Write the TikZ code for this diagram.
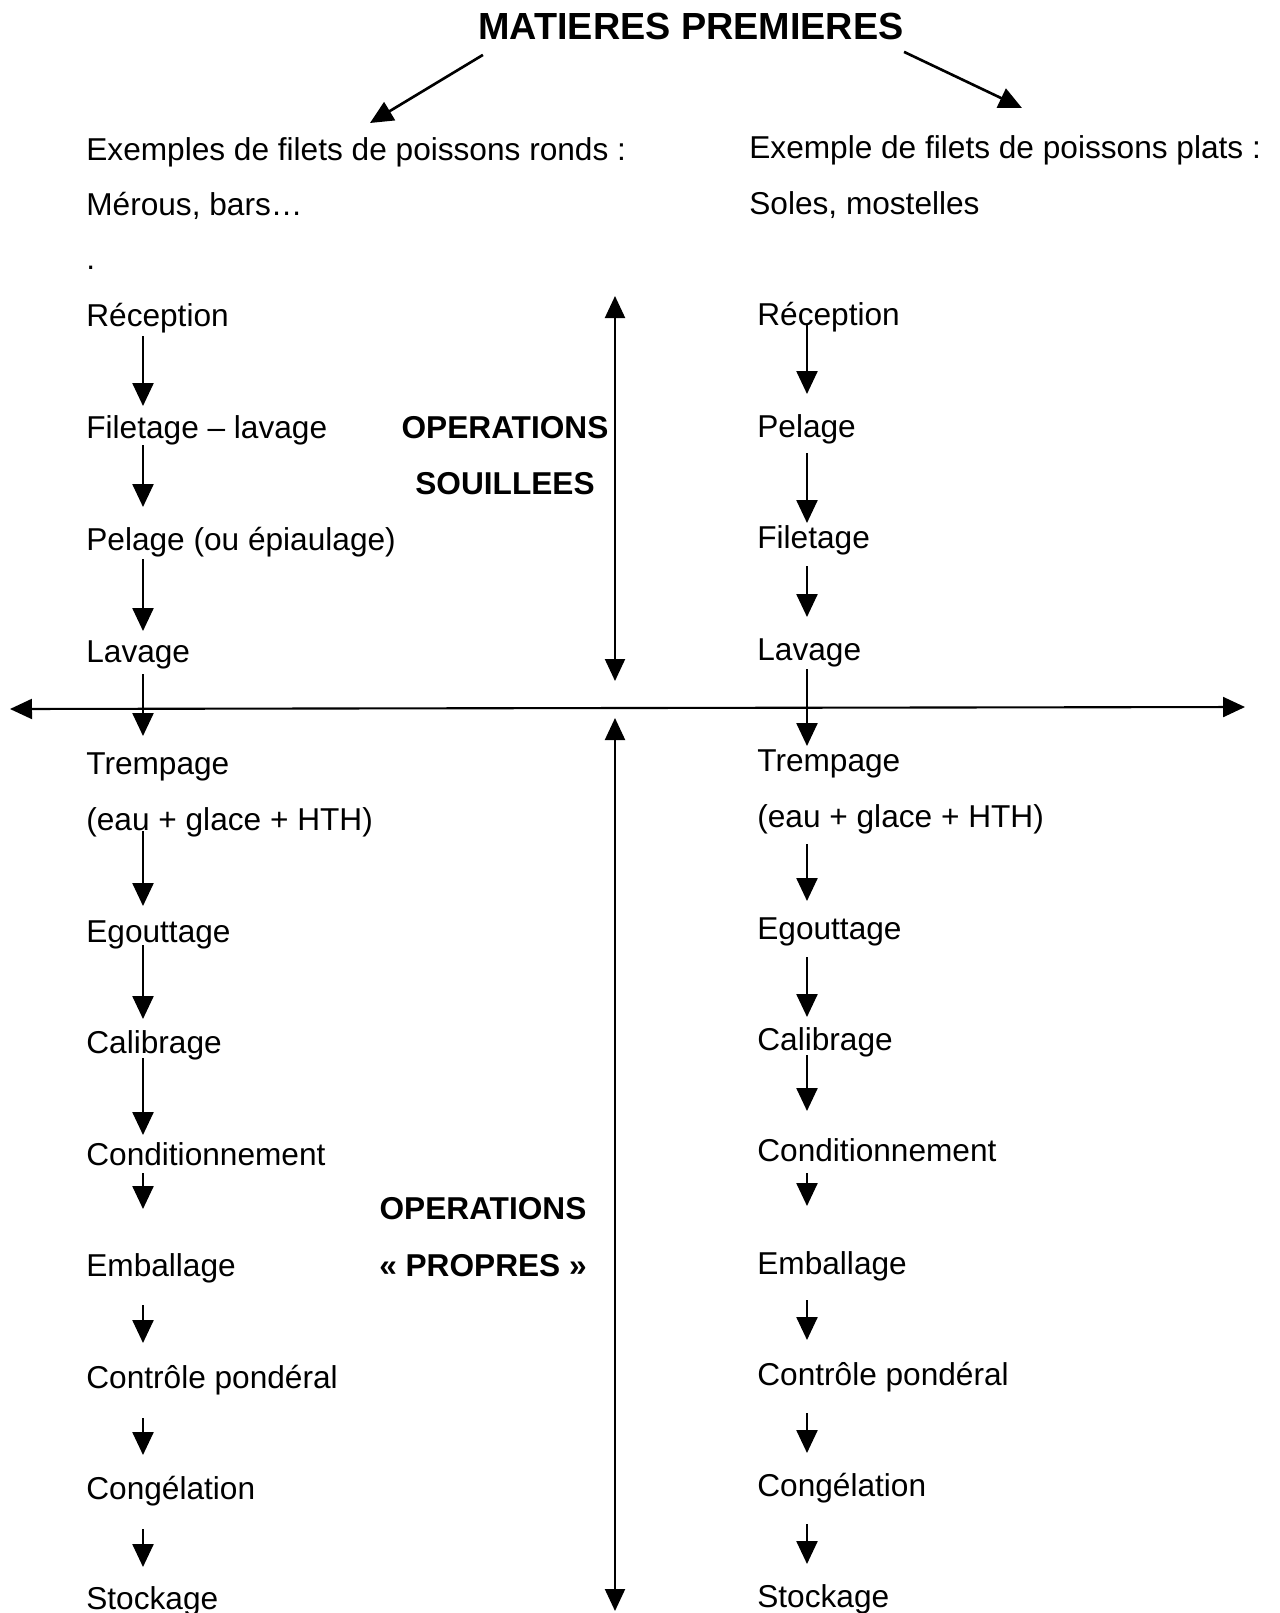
\documentclass[tikz,border=0pt]{standalone}
\usepackage{fontspec}
\setmainfont{Liberation Sans}
\usepackage{tikz}
\usetikzlibrary{positioning,calc,arrows.meta}

\tikzset{
  txt/.style={anchor=west, inner sep=0pt, text height=12.9pt, text depth=0pt, font=\fontsize{18}{22}\selectfont},
  ops/.style={inner sep=0pt, text height=12.9pt, text depth=0pt, font=\fontsize{18}{22}\selectfont\bfseries},
  flow/.style 2 args={-{Triangle[length=0.46cm,width=0.42cm]}, line width=1.4pt, shorten <=#1*0.02cm, shorten >=#2*0.02cm},
  axe/.style={{Triangle[length=0.44cm,width=0.40cm]}-{Triangle[length=0.44cm,width=0.40cm]}, line width=1.2pt},
}

\begin{document}
\begin{tikzpicture}[x=0.02cm, y=-0.02cm]
    \useasboundingbox (0,0) rectangle (1280,1613);

    % Title and the two fish types
    \node[inner sep=0pt, text height=15.4pt, text depth=0pt, font=\fontsize{21.5}{25}\selectfont\bfseries] (title) at (691,26) {MATIERES PREMIERES};
    \coordinate (tL) at (370,123);
    \coordinate (tR) at (1022,108);
    \draw[-{Triangle[length=0.46cm,width=0.42cm]}, line width=1.5pt] ($(title.south west)+(5,15)$) -- (tL);
    \draw[-{Triangle[length=0.46cm,width=0.42cm]}, line width=1.5pt] ($(title.south east)+(0,12)$) -- (tR);

    \node[txt] (ronds) at (86,149) {Exemples de filets de poissons ronds :};
    \node[txt] (merou) at (86,204) {Mérous, bars\ldots};
    \node[txt] (dot) at (86,258) {.};
    \node[txt] (plats) at (749,147) {Exemple de filets de poissons plats :};
    \node[txt] (soles) at (749,203) {Soles, mostelles};

    % Left column: round fish
    \node[txt] (recL) at (86,315) {Réception};
    \node[txt] (filL) at (86,427) {Filetage – lavage};
    \node[txt] (pelL) at (86,539) {Pelage (ou épiaulage)};
    \node[txt] (lavL) at (86,651) {Lavage};
    \node[txt] (trpL) at (86,763) {Trempage};
    \node[txt] (eauL) at (86,819) {(eau + glace + HTH)};
    \node[txt] (egoL) at (86,931) {Egouttage};
    \node[txt] (calL) at (86,1042) {Calibrage};
    \node[txt] (conL) at (86,1154) {Conditionnement};
    \node[txt] (embL) at (86,1265) {Emballage};
    \node[txt] (ctrL) at (86,1377) {Contrôle pondéral};
    \node[txt] (cgL) at (86,1488) {Congélation};
    \node[txt] (stkL) at (86,1598) {Stockage};
    \coordinate (xL) at (143,0);

    \draw[flow={21}{21}] (recL -| xL) -- (filL -| xL);
    \draw[flow={18}{32}] (filL -| xL) -- (pelL -| xL);
    \draw[flow={20}{20}] (pelL -| xL) -- (lavL -| xL);
    \draw[flow={23}{27}] (lavL -| xL) -- (trpL -| xL);
    \draw[flow={12}{25}] (eauL -| xL) -- (egoL -| xL);
    \draw[flow={14}{23}] (egoL -| xL) -- (calL -| xL);
    \draw[flow={16}{19}] (calL -| xL) -- (conL -| xL);
    \draw[flow={19}{56}] (conL -| xL) -- (embL -| xL);
    \draw[flow={40}{34}] (embL -| xL) -- (ctrL -| xL);
    \draw[flow={41}{33}] (ctrL -| xL) -- (cgL -| xL);
    \draw[flow={41}{31}] (cgL -| xL) -- (stkL -| xL);

    % Right column: flat fish
    \node[txt] (recR) at (757,314) {Réception};
    \node[txt] (pelR) at (757,426) {Pelage};
    \node[txt] (filR) at (757,537) {Filetage};
    \node[txt] (lavR) at (757,649) {Lavage};
    \node[txt] (trpR) at (757,760) {Trempage};
    \node[txt] (eauR) at (757,816) {(eau + glace + HTH)};
    \node[txt] (egoR) at (757,928) {Egouttage};
    \node[txt] (calR) at (757,1039) {Calibrage};
    \node[txt] (conR) at (757,1150) {Conditionnement};
    \node[txt] (embR) at (757,1263) {Emballage};
    \node[txt] (ctrR) at (757,1374) {Contrôle pondéral};
    \node[txt] (cgR) at (757,1485) {Congélation};
    \node[txt] (stkR) at (757,1596) {Stockage};
    \coordinate (xR) at (807,0);

    \draw[flow={10}{32}] (recR -| xR) -- (pelR -| xR);
    \draw[flow={27}{14}] (pelR -| xR) -- (filR -| xR);
    \draw[flow={29}{32}] (filR -| xR) -- (lavR -| xR);
    \draw[flow={20}{14}] (lavR -| xR) -- (trpR -| xR);
    \draw[flow={28}{27}] (eauR -| xR) -- (egoR -| xR);
    \draw[flow={29}{22}] (egoR -| xR) -- (calR -| xR);
    \draw[flow={16}{39}] (calR -| xR) -- (conR -| xR);
    \draw[flow={23}{57}] (conR -| xR) -- (embR -| xR);
    \draw[flow={37}{34}] (embR -| xR) -- (ctrR -| xR);
    \draw[flow={39}{32}] (ctrR -| xR) -- (cgR -| xR);
    \draw[flow={39}{32}] (cgR -| xR) -- (stkR -| xR);

    % Dirty / clean split
    \node[ops] (opsS) at (505,427) {OPERATIONS};
    \node[ops] (souil) at (505,483) {SOUILLEES};
    \node[ops] (opsP) at (483,1208) {OPERATIONS};
    \node[ops] (propr) at (483,1265) {« PROPRES »};

    \coordinate (hL) at (10,709);
    \coordinate (hR) at (1245,707);
    \coordinate (vT) at (615,296);
    \coordinate (vM1) at (615,681);
    \coordinate (vM2) at (615,718);
    \coordinate (vB) at (615,1611);
    \draw[axe] (hL) -- (hR);
    \draw[axe] (vT) -- (vM1);
    \draw[axe] (vM2) -- (vB);
\end{tikzpicture}
\end{document}
